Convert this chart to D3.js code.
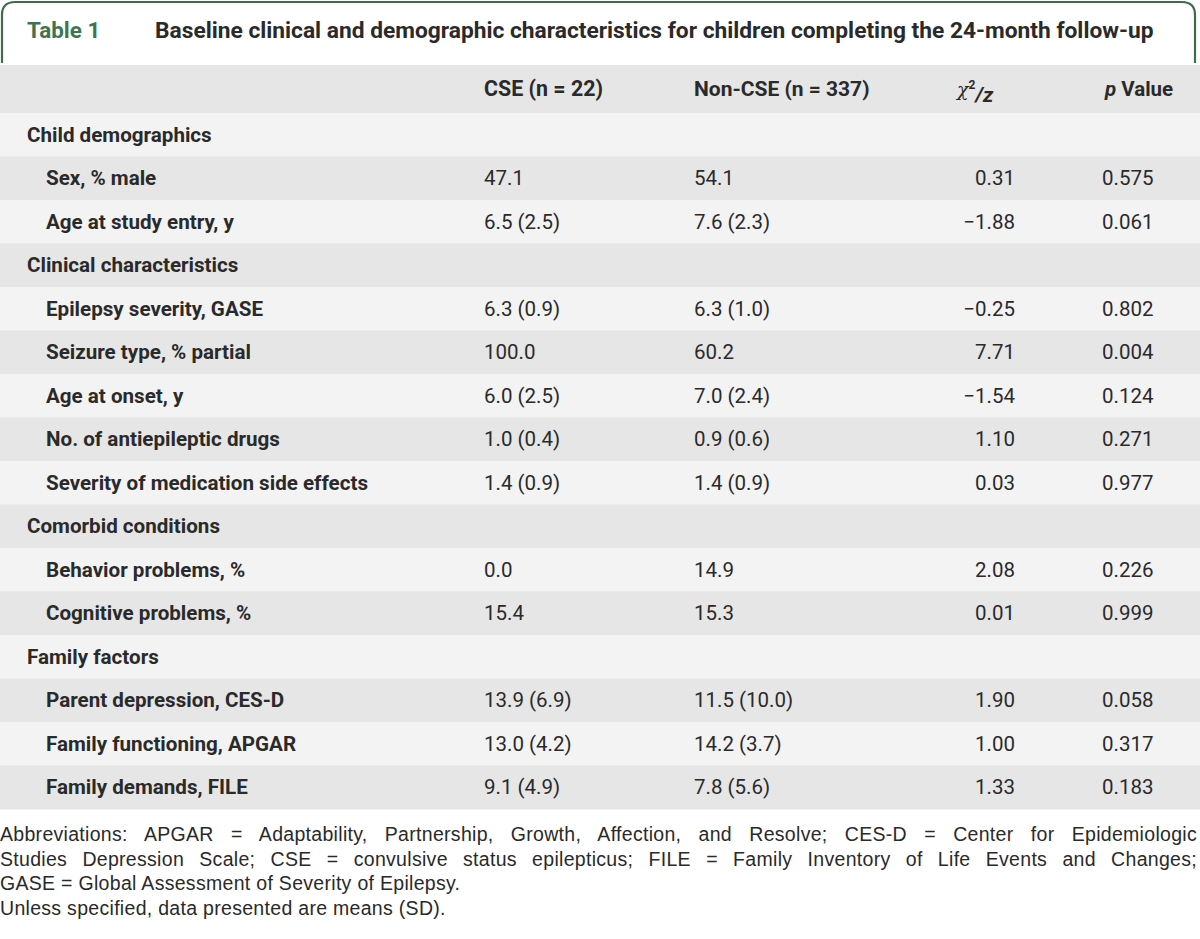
<!DOCTYPE html>
<html>
<head>
<meta charset="utf-8">
<script src="https://cdn.jsdelivr.net/npm/d3@7"></script>
<style>
  html, body { margin: 0; padding: 0; background: #ffffff; }
  svg { display: block; }
</style>
</head>
<body>
<svg id="chart" width="1200" height="939"></svg>
<script>
// ---- data ----
const tableNumber = "Table 1";
const tableTitle = "Baseline clinical and demographic characteristics for children completing the 24-month follow-up";
const columnHeaders = ["", "CSE (n = 22)", "Non-CSE (n = 337)", "χ²/z", "p Value"];
const rowLabels = [
  "Child demographics", "Sex, % male", "Age at study entry, y",
  "Clinical characteristics", "Epilepsy severity, GASE", "Seizure type, % partial",
  "Age at onset, y", "No. of antiepileptic drugs", "Severity of medication side effects",
  "Comorbid conditions", "Behavior problems, %", "Cognitive problems, %",
  "Family factors", "Parent depression, CES-D", "Family functioning, APGAR", "Family demands, FILE"
];
const rowIsSection = [true, false, false, true, false, false, false, false, false, true, false, false, true, false, false, false];
const cseValues = ["", "47.1", "6.5 (2.5)", "", "6.3 (0.9)", "100.0", "6.0 (2.5)", "1.0 (0.4)", "1.4 (0.9)", "", "0.0", "15.4", "", "13.9 (6.9)", "13.0 (4.2)", "9.1 (4.9)"];
const nonCseValues = ["", "54.1", "7.6 (2.3)", "", "6.3 (1.0)", "60.2", "7.0 (2.4)", "0.9 (0.6)", "1.4 (0.9)", "", "14.9", "15.3", "", "11.5 (10.0)", "14.2 (3.7)", "7.8 (5.6)"];
const chiValues = ["", "0.31", "−1.88", "", "−0.25", "7.71", "−1.54", "1.10", "0.03", "", "2.08", "0.01", "", "1.90", "1.00", "1.33"];
const pValues = ["", "0.575", "0.061", "", "0.802", "0.004", "0.124", "0.271", "0.977", "", "0.226", "0.999", "", "0.058", "0.317", "0.183"];
const footnoteLines = [
  "Abbreviations: APGAR = Adaptability, Partnership, Growth, Affection, and Resolve; CES-D = Center for Epidemiologic",
  "Studies Depression Scale; CSE = convulsive status epilepticus; FILE = Family Inventory of Life Events and Changes;",
  "GASE = Global Assessment of Severity of Epilepsy.",
  "Unless specified, data presented are means (SD)."
];
const footnoteJustified = [true, true, false, false];

// ---- layout ----
const W = 1200;
const svg = d3.select("#chart");
const textColor = "#2a2a2a";
const green = "#3c6e4a";
const darkRow = "#e6e6e6";
const lightRow = "#f3f3f3";
const font = "Roboto, 'Liberation Sans', Arial, sans-serif";
const noteFont = "'Liberation Sans', Arial, sans-serif";

// title tab border
const r = 13;
svg.append("path")
  .attr("d", `M2,63 L2,${2 + r} Q2,2 ${2 + r},2 L${1195 - r},2 Q1195,2 1195,${2 + r} L1195,63`)
  .attr("fill", "none").attr("stroke", green).attr("stroke-width", 2.2);

svg.append("text").attr("x", 27).attr("y", 38)
  .attr("font-family", font).attr("font-weight", 700).attr("font-size", 22.4)
  .attr("fill", "#3f7450").text(tableNumber);
svg.append("text").attr("x", 155).attr("y", 38)
  .attr("font-family", font).attr("font-weight", 700).attr("font-size", 22.75)
  .attr("fill", textColor).text(tableTitle);

// rows via band scale
const headerTop = 65, headerBottom = 113;
const rowH = 43.5;
const y = d3.scaleBand()
  .domain(d3.range(rowLabels.length))
  .range([headerBottom, headerBottom + rowH * rowLabels.length])
  .paddingInner(0).paddingOuter(0);

// columns
const colX = { label: 27, indent: 46, cse: 484, non: 694, chiRight: 1015, chiHead: 957, p: 1102 };

// header background
svg.append("rect").attr("x", 0).attr("y", headerTop).attr("width", W).attr("height", headerBottom - headerTop).attr("fill", darkRow);
const hy = (headerTop + headerBottom) / 2;
const hg = svg.append("g").attr("font-family", font).attr("font-weight", 700).attr("font-size", 21).attr("fill", textColor);
hg.append("text").attr("x", colX.cse).attr("y", hy).attr("dy", "0.35em").attr("font-size", 21.4).text(columnHeaders[1]);
hg.append("text").attr("x", colX.non).attr("y", hy).attr("dy", "0.35em").text(columnHeaders[2]);
const chiT = hg.append("text").attr("x", colX.chiHead).attr("y", hy).attr("dy", "0.35em");
chiT.append("tspan").attr("font-style", "italic").attr("font-weight", 400).attr("font-family", "'DejaVu Serif', serif").attr("font-size", 19).text("χ");
chiT.append("tspan").attr("font-size", 12).attr("dy", "-0.6em").text("2");
chiT.append("tspan").attr("dy", "0.6em").attr("font-style", "italic").text("/z");
const pT = hg.append("text").attr("x", 1105).attr("y", hy).attr("dy", "0.35em").attr("font-size", 20.5);
pT.append("tspan").attr("font-style", "italic").text("p");
pT.append("tspan").text(" Value");

// row backgrounds
const rows = svg.append("g").selectAll("g.row").data(rowLabels.map((d, i) => i)).join("g").attr("class", "row");
rows.append("rect")
  .attr("x", 0).attr("y", i => y(i)).attr("width", W).attr("height", y.bandwidth() + 0.5)
  .attr("fill", i => i % 2 === 0 ? lightRow : darkRow);

rows.append("text")
  .attr("x", i => rowIsSection[i] ? colX.label : colX.indent)
  .attr("y", i => y(i) + y.bandwidth() / 2).attr("dy", "0.35em")
  .attr("font-family", font).attr("font-weight", 700).attr("font-size", 20.6)
  .attr("fill", textColor).text(i => rowLabels[i]);

function valText(arr, x, anchor) {
  rows.append("text")
    .attr("x", x).attr("y", i => y(i) + y.bandwidth() / 2).attr("dy", "0.35em")
    .attr("text-anchor", anchor)
    .attr("font-family", font).attr("font-weight", 400).attr("font-size", 20.5)
    .attr("fill", textColor).text(i => arr[i]);
}
valText(cseValues, colX.cse, "start");
valText(nonCseValues, colX.non, "start");
valText(chiValues, colX.chiRight, "end");
valText(pValues, colX.p, "start");

// footnotes
const fy0 = 841, fLine = 24.7;
footnoteLines.forEach((line, k) => {
  const t = svg.append("text").attr("x", 0).attr("y", fy0 + k * fLine)
    .attr("font-family", noteFont).attr("font-size", 19.5).attr("letter-spacing", 0.3)
    .attr("fill", textColor).text(line);
  if (footnoteJustified[k]) {
    const len = t.node().getComputedTextLength();
    const gaps = (line.match(/ /g) || []).length;
    const extra = (1197 - len) / gaps;
    t.attr("word-spacing", extra);
  }
});
</script>
</body>
</html>
